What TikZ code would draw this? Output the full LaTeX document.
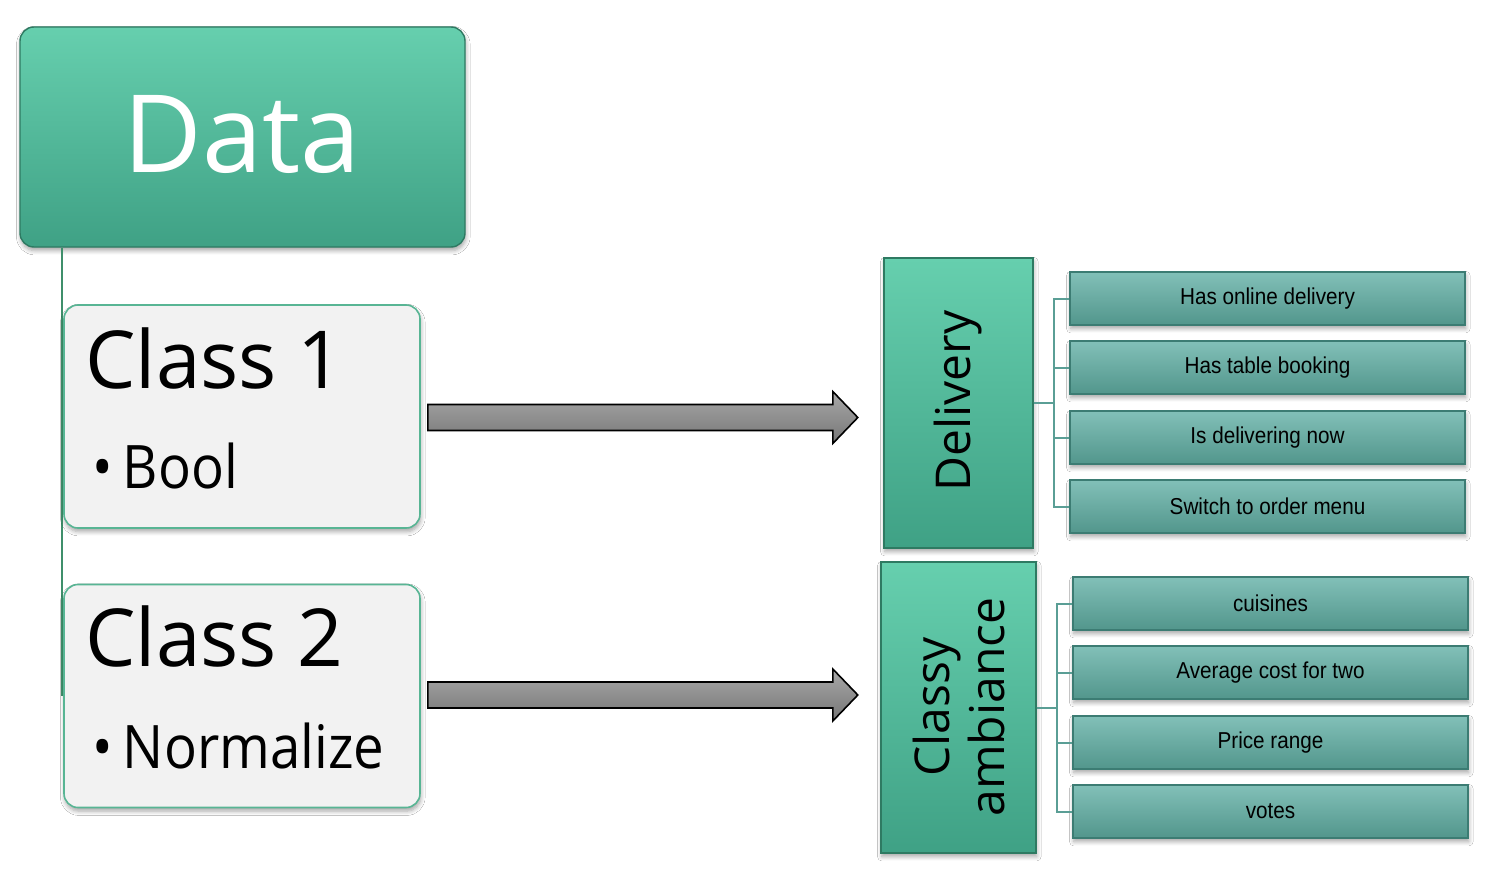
\documentclass[tikz,border=0pt]{standalone}
\usepackage{fontspec}
\setmainfont{Open Sans}
\newfontfamily\labfont[FakeStretch=0.9]{Liberation Sans}
\newfontfamily\subfont[FakeStretch=0.91]{Open Sans}
\usetikzlibrary{calc,shadows.blur}
\definecolor{gtop}{HTML}{66CFAE}
\definecolor{gbot}{HTML}{3FA185}
\definecolor{gborder}{HTML}{2E7A62}
\definecolor{itop}{HTML}{82C0B8}
\definecolor{ibot}{HTML}{52968C}
\definecolor{iborder}{HTML}{3C7C73}
\definecolor{cfill}{HTML}{F2F2F2}
\definecolor{cborder}{HTML}{58B594}
\definecolor{brkcol}{HTML}{5A9E95}
\definecolor{dlcol}{HTML}{3F8F6B}
\definecolor{atop}{HTML}{A8A8A8}
\definecolor{abot}{HTML}{767676}
\tikzset{
  shad/.style={blur shadow={shadow xshift=0.4pt, shadow yshift=-1.8pt, shadow opacity=35, shadow blur steps=6}},
  databox/.style={rounded corners=7pt, top color=gtop, bottom color=gbot, draw=gborder, line width=0.7pt, shad, minimum width=222.5pt, minimum height=110pt},
  classbox/.style={rounded corners=7pt, fill=cfill, draw=cborder, line width=0.8pt, shad, minimum width=178pt, minimum height=111.5pt},
  catbox/.style={top color=gtop, bottom color=gbot, draw=gborder, line width=0.7pt, shad},
  itembox/.style={top color=itop, bottom color=ibot, draw=iborder, line width=0.7pt, shad, minimum width=197.5pt, minimum height=26.5pt, font=\labfont\fontsize{11.5}{13}\selectfont, text=black},
  brk/.style={draw=brkcol, line width=1pt},
  blockarrow/.style={top color=atop, bottom color=abot, draw=black, line width=0.8pt},
  bigtxt/.style={anchor=base west, inner sep=0pt, font=\fontsize{40}{44}\selectfont},
  subtxt/.style={anchor=base west, inner sep=0pt, font=\subfont\fontsize{30}{34}\selectfont},
  cattxt/.style={rotate=90, align=center, font=\fontsize{24}{27.5}\selectfont, text=black},
}
\begin{document}
\begin{tikzpicture}[x=0.5pt,y=-0.5pt]
\useasboundingbox[fill=white] (0,0) rectangle (1508,883);

% data and classes
\node[databox] (data) at (242.5,137) {};
\coordinate (dl) at ($(data.south west)+(43,0)$);
\draw[draw=dlcol, line width=0.9pt] (dl) -- (dl |- 0,696);
\node[text=white, font=\fontsize{54}{60}\selectfont, inner sep=0pt] (datat) at (242,134) {Data};

\node[classbox] (c1) at (242,416.5) {};
\node[bigtxt] (c1t) at (85,388) {Class 1};
\node[subtxt] (c1s) at (92,488) {•\hspace{5pt}Bool};

\node[classbox] (c2) at (242,696) {};
\node[bigtxt] (c2t) at (85,666) {Class 2};
\node[subtxt] (c2s) at (92,768) {•\hspace{5pt}Normalize};

% categories
\node[catbox, minimum width=74.5pt, minimum height=145pt] (del) at (958.5,403) {};
\node[cattxt] (delt) at (958.5,401) {Delivery};
\node[catbox, minimum width=77.5pt, minimum height=145.5pt] (cls) at (958.5,707.5) {};
\node[cattxt] (clst) at (958.5,707) {Classy\\ambiance};

% block arrows
\shade[blockarrow] ($(c1.east)+(7,-12)$) -- ($(c1.east)+(412,-12)$) -- ($(c1.east)+(412,-25)$)
  -- ($(c1.east)+(437,1)$) -- ($(c1.east)+(412,27)$) -- ($(c1.east)+(412,14)$) -- ($(c1.east)+(7,14)$) -- cycle;
\shade[blockarrow] ($(c2.east)+(7,-14)$) -- ($(c2.east)+(412,-14)$) -- ($(c2.east)+(412,-27)$)
  -- ($(c2.east)+(437,-1)$) -- ($(c2.east)+(412,25)$) -- ($(c2.east)+(412,12)$) -- ($(c2.east)+(7,12)$) -- cycle;

% delivery items
\node[itembox] (d1) at (1267.5,298.5) {Has online delivery};
\node[itembox] (d2) at (1267.5,367.5) {Has table booking};
\node[itembox] (d3) at (1267.5,437.5) {Is delivering now};
\node[itembox] (d4) at (1267.5,506.5) {Switch to order menu};
\foreach \n in {d1,d2,d3,d4}{
  \draw[brk] (del.east) -- ++(20,0) |- (\n.west);
}

% classy items
\node[itembox] (k1) at (1270.5,603.5) {cuisines};
\node[itembox] (k2) at (1270.5,672.5) {Average cost for two};
\node[itembox] (k3) at (1270.5,742.5) {Price range};
\node[itembox] (k4) at (1270.5,811.5) {votes};
\foreach \n in {k1,k2,k3,k4}{
  \draw[brk] (cls.east) -- ++(20,0) |- (\n.west);
}
\end{tikzpicture}
\end{document}
